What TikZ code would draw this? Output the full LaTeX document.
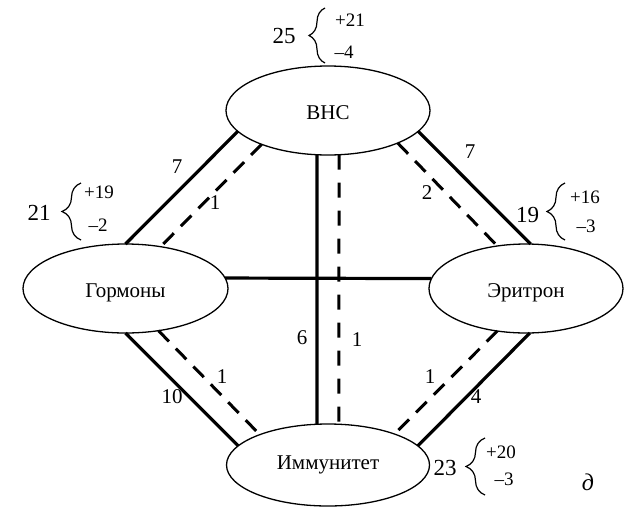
\documentclass[tikz,border=0pt]{standalone}
\usepackage{fontspec}
\setmainfont{Liberation Serif}
\usetikzlibrary{shapes.geometric,decorations.pathreplacing}

\begin{document}
\begin{tikzpicture}[x=1pt,y=-1pt,
  organ/.style={ellipse,draw,line width=1.3pt,inner sep=0pt,outer sep=0pt,
    minimum width=204pt,minimum height=89pt,
    font=\fontsize{21}{25}\selectfont,text height=17pt,text depth=0pt},
  strong/.style={line width=3.2pt},
  weak/.style={line width=3pt,dash pattern=on 15pt off 10pt},
  weakv/.style={line width=3pt,dash pattern=on 15pt off 13pt},
  num/.style={inner sep=0pt,font=\fontsize{21}{25}\selectfont},
  total/.style={inner sep=0pt,font=\fontsize{23}{27}\selectfont},
  part/.style={inner sep=0pt,font=\fontsize{19}{23}\selectfont},
  bracket/.style={decorate,decoration={brace,amplitude=#1},line width=1.2pt},
]
\useasboundingbox (0,0) rectangle (624,507);

% organ systems
\node[organ] (vns)  at (328,110.5) {ВНС};
\node[organ,minimum width=205pt] (gorm) at (125.5,288.5) {Гормоны};
\node[organ,minimum width=194pt] (erit) at (526,288.5) {Эритрон};
\node[organ,minimum width=203pt,minimum height=82pt,text height=13pt,text depth=4pt]
  (imm) at (328,465) {Иммунитет};

% links: solid and dashed pairs
\draw[strong] (vns.193) -- (gorm.90);
\draw[weak]   (vns.207) -- (gorm.50);
\draw[strong] (vns.347) -- (erit.84);
\draw[weak]   (vns.335) -- (erit.124);
\draw[strong] (vns.256) -- (imm.105);
\draw[weakv]  (vns.284) -- (imm.75);
\draw[strong] (gorm.270) -- (imm.168);
\draw[weak]   (gorm.308) -- (imm.156);
\draw[strong] (erit.275) -- (imm.12);
\draw[weak]   (erit.236) -- (imm.25);
\draw[strong] (gorm.6) -- (erit.174);

% link weights
\node[num] (w1)  at (177,167) {7};
\node[num] (w2)  at (215,203) {1};
\node[num] (w3)  at (470,152) {7};
\node[num] (w4)  at (427,193) {2};
\node[num] (w5)  at (172,397) {10};
\node[num] (w6)  at (222,377) {1};
\node[num] (w7)  at (302,338) {6};
\node[num] (w8)  at (357,340) {1};
\node[num] (w9)  at (430,377) {1};
\node[num] (w10) at (476,397) {4};

% totals with their gains and losses
\node[total] (t1) at (284,36) {25};
\draw[bracket=16pt] (325,63) -- (325,8);
\node[part] (p1) at (350,20) {+21};
\node[part] (m1) at (344,52) {–4};

\node[total] (t2) at (39,213) {21};
\draw[bracket=19pt] (81,240) -- (81,183);
\node[part] (p2) at (99,192) {+19};
\node[part] (m2) at (98,225) {–2};

\node[total] (t3) at (527.5,215) {19};
\draw[bracket=18pt] (565,240) -- (565,183);
\node[part] (p3) at (585,197) {+16};
\node[part] (m3) at (586,226) {–3};

\node[total] (t4) at (445,468) {23};
\draw[bracket=19pt] (485,495) -- (485,438);
\node[part] (p4) at (501,452) {+20};
\node[part] (m4) at (504,479) {–3};

\node[inner sep=0pt,font=\fontsize{24}{28}\selectfont\itshape] (tag) at (588,482) {д};
\end{tikzpicture}
\end{document}
